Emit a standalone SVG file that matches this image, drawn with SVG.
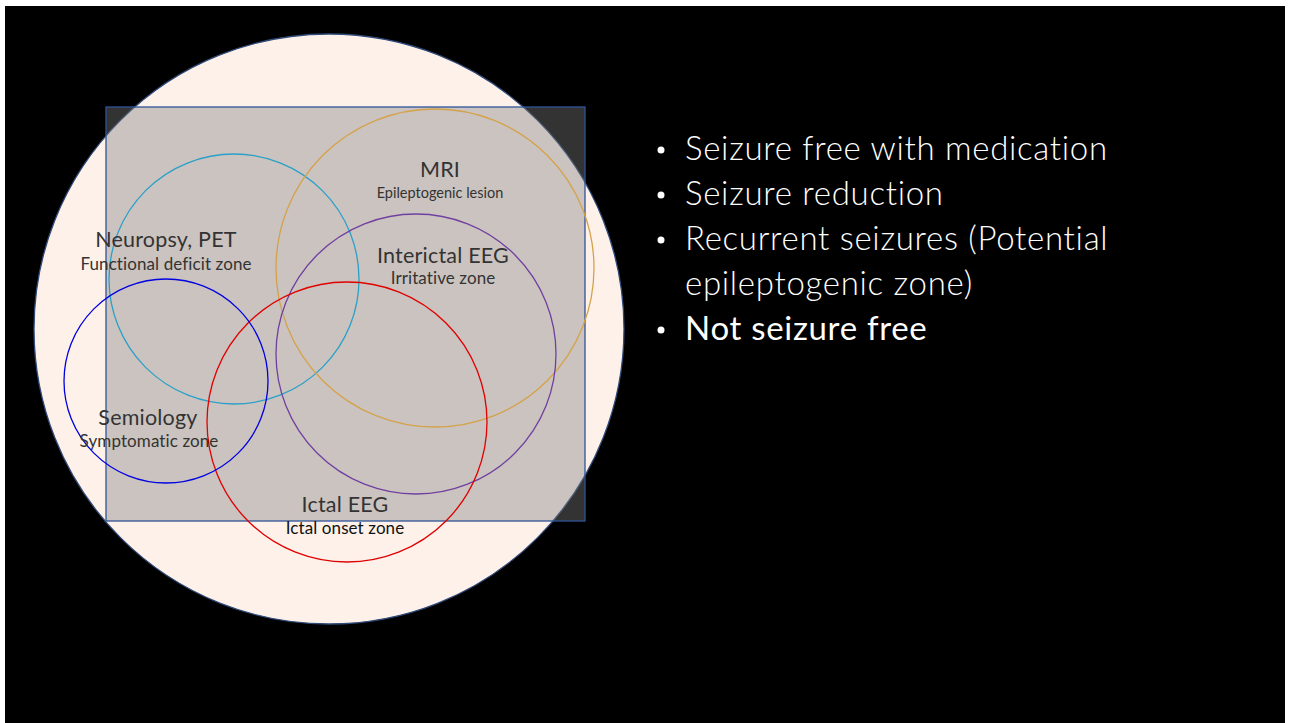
<svg xmlns="http://www.w3.org/2000/svg" width="1292" height="723" viewBox="0 0 1292 723">
<style>
.lbl{font-family:Lato,"Open Sans","Liberation Sans",sans-serif;fill:#333;text-anchor:middle;font-size:21.5px;letter-spacing:0.2px}
.sub{font-family:Lato,"Open Sans","Liberation Sans",sans-serif;fill:#333;text-anchor:middle;font-size:17px;letter-spacing:0.1px}
.zone{fill:none;stroke-width:1.3}
.bul{font-family:Lato,"Open Sans","Liberation Sans",sans-serif;fill:#fff;font-size:33px;font-weight:300;letter-spacing:0.7px}
</style>
<rect x="0" y="0" width="1292" height="723" fill="#fff"/>
<rect x="5" y="6" width="1280" height="717" fill="#000"/>
<g id="brain">
<circle cx="329" cy="329" r="295" fill="#FDF1EA" stroke="#2F4A7A" stroke-width="1.3"/>
</g>
<g id="epileptogenic-square">
<rect x="106" y="107" width="479" height="414" fill="#808080" fill-opacity="0.4" stroke="#2F5597" stroke-width="1.3"/>
</g>
<g id="neuropsy">
<circle class="zone" cx="234" cy="279" r="125" stroke="#2AA0C8"/>
<text class="lbl" x="166" y="247">Neuropsy, PET</text>
<text class="sub" x="166" y="270">Functional deficit zone</text>
</g>
<g id="mri">
<circle class="zone" cx="435" cy="268" r="159" stroke="#D4A24A"/>
<text class="lbl" x="440" y="177">MRI</text>
<text class="sub" x="440" y="198" style="font-size:14.5px;letter-spacing:0">Epileptogenic lesion</text>
</g>
<g id="interictal">
<circle class="zone" cx="416" cy="354" r="140" stroke="#7040A0"/>
<text class="lbl" x="443" y="263">Interictal EEG</text>
<text class="sub" x="443" y="284">Irritative zone</text>
</g>
<g id="ictal">
<circle class="zone" cx="347" cy="422" r="140" stroke="#E00000"/>
<text class="lbl" x="345" y="512">Ictal EEG</text>
<text class="sub" x="345" y="534" style="fill:#111">Ictal onset zone</text>
</g>
<g id="semiology">
<circle class="zone" cx="166" cy="381" r="102" stroke="#0000E0"/>
<text class="lbl" x="148" y="425">Semiology</text>
<text class="sub" x="149" y="447">Symptomatic zone</text>
</g>
<g id="connectors"></g>
<g id="outcomes">
<circle cx="661" cy="150" r="3.5" fill="#fff"/>
<text class="bul" x="685" y="160">Seizure free with medication</text>
<circle cx="661" cy="195" r="3.5" fill="#fff"/>
<text class="bul" x="685" y="205">Seizure reduction</text>
<circle cx="661" cy="240" r="3.5" fill="#fff"/>
<text class="bul" x="685" y="250">Recurrent seizures (Potential</text>
<text class="bul" x="685" y="295">epileptogenic zone)</text>
<circle cx="661" cy="330" r="3.5" fill="#fff"/>
<text class="bul" x="685" y="340" style="font-weight:400">Not seizure free</text>
</g>
</svg>
